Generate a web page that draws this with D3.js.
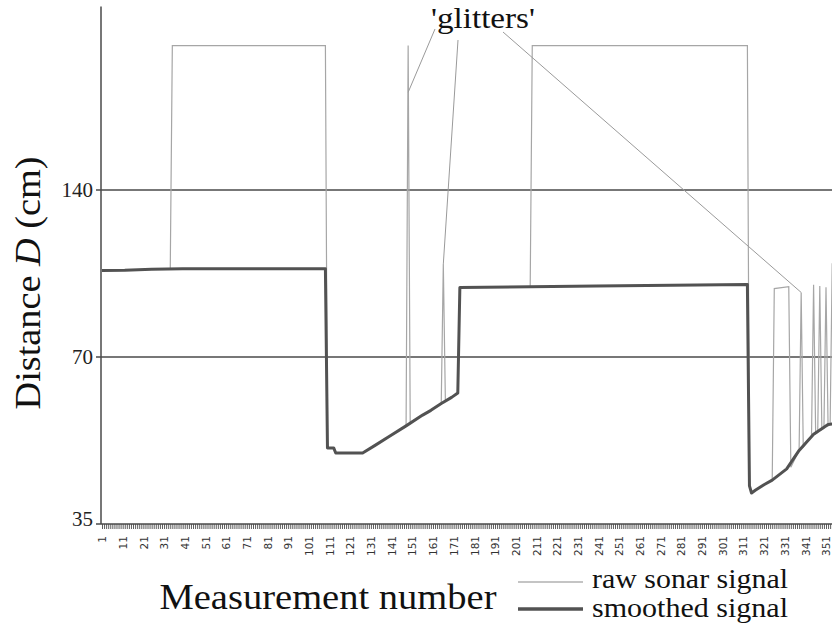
<!DOCTYPE html>
<html>
<head>
<meta charset="utf-8">
<script src="https://cdn.jsdelivr.net/npm/d3@7"></script>
<style>
  body { margin: 0; background: #fff; }
  svg { display: block; }
  .x-ticks text { font-family: "DejaVu Sans", Verdana, sans-serif; font-size: 10.5px; fill: #333; }
</style>
</head>
<body>
<svg id="chart" width="832" height="639"></svg>
<script>
const rawSignal = [
  [1, 100.2], [12, 100.3], [25, 100.8], [34, 101], [35, 255], [109, 255],
  [110, 48], [113, 48], [114, 47], [127, 47], [133, 48.5], [140, 50.4],
  [148, 52.6], [149, 255], [150, 53.1], [156, 55], [160, 56.1], [165, 57.7],
  [166, 103], [167, 58.2], [170, 59.2], [173, 60.3], [174, 93.4], [208, 93.7],
  [209, 255], [313, 255], [314, 41], [315, 39.8], [317, 40.3], [321, 41.2],
  [325, 42], [326, 93], [333, 93.7], [334, 44.3], [338, 47.5], [339, 91.5],
  [340, 48.2], [344, 50.4], [345, 94.5], [346, 50.9], [347, 51.2], [348, 94],
  [349, 51.8], [350, 52.1], [351, 93.5], [352, 52.6], [353, 52.9], [354, 103], [358, 103]
]
const smoothedSignal = [
  [1, 100.2], [12, 100.3], [25, 100.8], [40, 101], [109, 101],
  [110, 48], [113, 48], [114, 47], [127, 47], [133, 48.5], [140, 50.4],
  [148, 52.6], [156, 55], [160, 56.1], [165, 57.7], [170, 59.2], [173, 60.3],
  [174, 93.4], [240, 94], [313, 94.6], [314, 41], [315, 39.8], [317, 40.3],
  [321, 41.2], [325, 42], [332, 44], [338, 47.5], [345, 50.8], [352, 52.9], [358, 53.2]
]
const yTicks = [35, 70, 140]
const gridValues = [70, 140]
const seriesNames = ["raw sonar signal", "smoothed signal"]
// glitch points the annotation points at: [measurement, distance]
const glitchTargets = [[149, 210], [166, 103], [339, 91.5]]
const glitchLabel = "'glitters'"

const SERIF = '"Liberation Serif", Tinos, "Times New Roman", Times, "DejaVu Serif", serif'

const svg = d3.select("#chart")

const x = d3.scaleLinear().domain([1, 351]).range([102, 826])
const y = d3.scaleLog().base(2).domain([35, 140]).range([524, 190])
const yTop = 300
const axisCol = "#4a4a4a"

// gridlines
svg.append("g").selectAll("line")
  .data(gridValues).enter().append("line")
  .attr("x1", 96).attr("x2", 832)
  .attr("y1", d => y(d)).attr("y2", d => y(d))
  .attr("stroke", axisCol).attr("stroke-width", 1.5)

// y axis line
svg.append("line")
  .attr("x1", 101).attr("x2", 101)
  .attr("y1", y(yTop)).attr("y2", y(35))
  .attr("stroke", axisCol).attr("stroke-width", 1.5)

// y tick labels
svg.append("g").selectAll("text")
  .data(yTicks).enter().append("text")
  .attr("font-family", SERIF).attr("fill", "#222")
  .attr("x", 93)
  .attr("y", d => y(d))
  .attr("dy", d => d === 35 ? "0.1em" : "0.35em")
  .attr("text-anchor", "end")
  .attr("font-size", 21)
  .text(d => d)

// x axis: one tick per measurement, a label every 10
const xAxis = d3.axisBottom(x)
  .tickValues(d3.range(1, 359))
  .tickSize(5)
  .tickFormat(d => (d - 1) % 10 === 0 ? d : "")

const gx = svg.append("g")
  .attr("class", "x-ticks")
  .attr("transform", `translate(0,${y(35)})`)
  .call(xAxis)
gx.select(".domain").remove()
gx.selectAll(".tick line").attr("stroke", "#333").attr("stroke-width", 0.8)
gx.selectAll(".tick text")
  .attr("transform", "rotate(-90)")
  .attr("text-anchor", "end")
  .attr("x", -12).attr("y", 0).attr("dy", "0.35em")

svg.append("line")
  .attr("x1", 96).attr("x2", 832)
  .attr("y1", y(35)).attr("y2", y(35))
  .attr("stroke", axisCol).attr("stroke-width", 1.5)

// series
const line = d3.line().x(d => x(d[0])).y(d => y(d[1]))

svg.append("path")
  .datum(rawSignal)
  .attr("d", line)
  .attr("fill", "none")
  .attr("stroke", "#a6a6a6")
  .attr("stroke-width", 1.2)

svg.append("path")
  .datum(smoothedSignal)
  .attr("d", line)
  .attr("fill", "none")
  .attr("stroke", "#525252")
  .attr("stroke-width", 3)
  .attr("stroke-linejoin", "round")

// 'glitters' annotation
const labelStarts = [[435, 29], [458, 40], [503, 32]]
svg.append("g").selectAll("line")
  .data(glitchTargets).enter().append("line")
  .attr("x1", (d, i) => labelStarts[i][0])
  .attr("y1", (d, i) => labelStarts[i][1])
  .attr("x2", d => x(d[0]))
  .attr("y2", d => y(d[1]))
  .attr("stroke", "#9a9a9a").attr("stroke-width", 1)

svg.append("text")
  .attr("font-family", SERIF).attr("fill", "#111")
  .attr("x", 483).attr("y", 28)
  .attr("text-anchor", "middle")
  .attr("font-size", 30)
  .attr("textLength", 104).attr("lengthAdjust", "spacingAndGlyphs")
  .text(glitchLabel)

// axis titles
svg.append("text")
  .attr("font-family", SERIF).attr("fill", "#111")
  .attr("transform", "translate(40,283) rotate(-90)")
  .attr("text-anchor", "middle")
  .attr("font-size", 35)
  .attr("textLength", 253).attr("lengthAdjust", "spacingAndGlyphs")
  .html('Distance <tspan font-style="italic">D</tspan> (cm)')

svg.append("text")
  .attr("font-family", SERIF).attr("fill", "#111")
  .attr("x", 328).attr("y", 609)
  .attr("text-anchor", "middle")
  .attr("font-size", 35)
  .attr("textLength", 337).attr("lengthAdjust", "spacingAndGlyphs")
  .text("Measurement number")

// legend
const legendRows = [
  { name: seriesNames[0], stroke: "#b0b0b0", width: 1.5, ly: 582, ty: 588 },
  { name: seriesNames[1], stroke: "#525252", width: 3.5, ly: 609, ty: 617 }
]
const lg = svg.append("g").selectAll("g")
  .data(legendRows).enter().append("g")
lg.append("line")
  .attr("x1", 518).attr("x2", 583)
  .attr("y1", d => d.ly).attr("y2", d => d.ly)
  .attr("stroke", d => d.stroke).attr("stroke-width", d => d.width)
lg.append("text")
  .attr("font-family", SERIF).attr("fill", "#111")
  .attr("x", 592).attr("y", d => d.ty)
  .attr("font-size", 27)
  .attr("textLength", 196).attr("lengthAdjust", "spacingAndGlyphs")
  .text(d => d.name)
</script>
</body>
</html>
